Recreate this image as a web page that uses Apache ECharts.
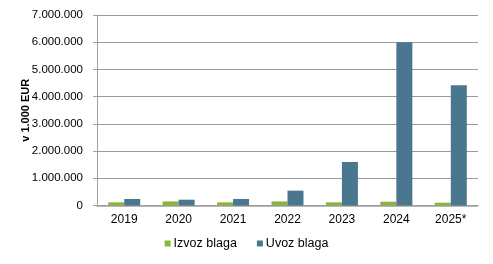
<!DOCTYPE html>
<html><head><meta charset="utf-8">
<script src="https://cdn.jsdelivr.net/npm/echarts@6/dist/echarts.min.js"></script>
<style>html,body{margin:0;padding:0;background:#fff}#c{width:493px;height:264px}</style>
</head><body><div id="c"></div>
<script>
const categories = ['2019','2020','2021','2022','2023','2024','2025*'];
const izvoz = [117000, 150000, 117000, 150000, 117000, 140000, 103000];
const uvoz = [240000, 213000, 240000, 545000, 1600000, 6000000, 4420000];
const seriesNames = ['Izvoz blaga','Uvoz blaga'];
const yTicks = {min:0, max:7000000, interval:1000000};
const fmt = v => String(v).replace(/\B(?=(\d{3})+(?!\d))/g, '.');
const chart = echarts.init(document.getElementById('c'), null, {renderer:'canvas'});
chart.setOption({
  animation:false,
  textStyle:{fontFamily:'Liberation Sans, Arial, sans-serif'},
  grid:{left:97, right:15, top:15, bottom:58.5, containLabel:false},
  legend:{
    data:seriesNames, bottom:9, left:'center', itemWidth:6, itemHeight:6, itemGap:20,
    icon:'rect', textStyle:{fontSize:12.5, color:'#000', padding:[0,0,0,-2]}
  },
  xAxis:{
    type:'category', data:categories,
    axisLine:{lineStyle:{color:'#a0a0a0', width:1.5}}, axisTick:{show:false},
    axisLabel:{color:'#000', fontSize:12, margin:8}
  },
  yAxis:{
    type:'value', min:yTicks.min, max:yTicks.max, interval:yTicks.interval,
    name:'v 1.000 EUR', nameLocation:'middle', nameGap:66, nameRotate:90, nameMoveOverlap:false,
    nameTextStyle:{fontWeight:'bold', fontSize:11, color:'#000'},
    axisLine:{show:true, lineStyle:{color:'#a0a0a0'}},
    axisTick:{show:true, length:4, lineStyle:{color:'#a0a0a0'}},
    axisLabel:{color:'#000', fontSize:11.5, margin:14, formatter:fmt},
    splitLine:{lineStyle:{color:'#9a9a9a', width:1}}
  },
  series:[
    {name:seriesNames[0], type:'bar', data:izvoz, barWidth:16, barGap:'0%', itemStyle:{color:'#8ab43c'}},
    {name:seriesNames[1], type:'bar', data:uvoz, barWidth:16, barGap:'0%', itemStyle:{color:'#4b7690'}}
  ]
});
</script></body></html>
